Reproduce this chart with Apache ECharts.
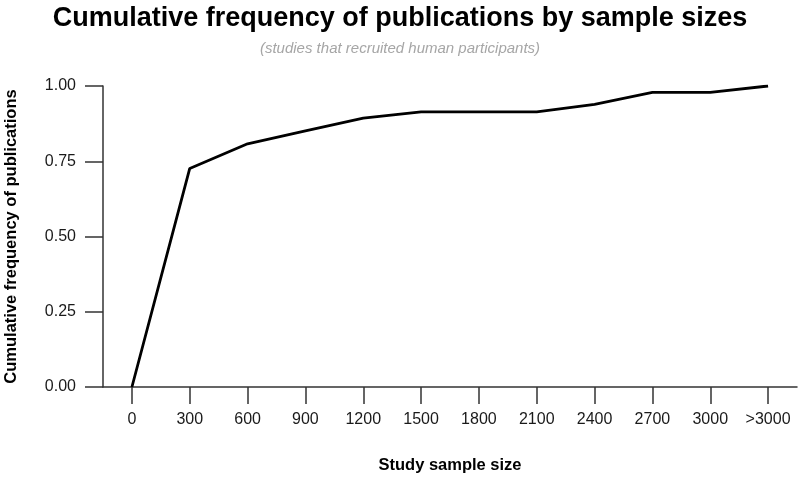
<!DOCTYPE html>
<html>
<head>
<meta charset="utf-8">
<script src="https://cdn.jsdelivr.net/npm/echarts@6/dist/echarts.min.js"></script>
<style>html,body{margin:0;padding:0;background:#fff}#c{width:800px;height:477px}</style>
</head>
<body>
<div id="c"></div>
<script>
const categories = ['0','300','600','900','1200','1500','1800','2100','2400','2700','3000','>3000'];
const cumFreq = [0, 0.726, 0.808, 0.851, 0.893, 0.914, 0.914, 0.914, 0.939, 0.979, 0.979, 1.0];
const yTicks = [0, 0.25, 0.5, 0.75, 1.0];

const chart = echarts.init(document.getElementById('c'), null, {renderer: 'canvas'});
const font = '"Liberation Sans", Arial, Helvetica, sans-serif';
chart.setOption({
  animation: false,
  title: [{
    text: 'Cumulative frequency of publications by sample sizes',
    left: 'center', top: 0,
    textStyle: {fontFamily: font, fontWeight: 'bold', fontSize: 27, color: '#000'}
  }, {
    text: '(studies that recruited human participants)',
    left: 'center', top: 36,
    textStyle: {fontFamily: font, fontStyle: 'italic', fontWeight: 'normal', fontSize: 15, color: '#a6a6a6'}
  }],
  grid: {left: 103, right: 3, top: 86, bottom: 90, containLabel: false, outerBoundsMode: 'none'},
  xAxis: {
    type: 'category',
    data: categories,
    boundaryGap: true,
    name: 'Study sample size',
    nameLocation: 'middle',
    nameGap: 70,
    nameTextStyle: {fontFamily: font, fontWeight: 'bold', fontSize: 16.5, color: '#000'},
    axisLine: {show: true, lineStyle: {color: '#333', width: 1.5}},
    axisTick: {show: true, alignWithLabel: true, length: 17, lineStyle: {color: '#333', width: 1.5}},
    axisLabel: {fontFamily: font, fontSize: 16, color: '#1a1a1a', margin: 25, interval: 0},
    splitLine: {show: false}
  },
  yAxis: {
    type: 'value',
    min: yTicks[0], max: yTicks[yTicks.length - 1], interval: 0.25,
    name: 'Cumulative frequency of publications',
    nameLocation: 'middle',
    nameGap: 83,
    nameRotate: 90,
    nameTextStyle: {fontFamily: font, fontWeight: 'bold', fontSize: 16.5, color: '#000'},
    axisLine: {show: true, lineStyle: {color: '#333', width: 1.5}},
    axisTick: {show: true, length: 18, lineStyle: {color: '#333', width: 1.5}},
    axisLabel: {fontFamily: font, fontSize: 16, color: '#1a1a1a', margin: 27,
      formatter: v => v.toFixed(2)},
    splitLine: {show: false}
  },
  series: [{
    type: 'line',
    data: cumFreq,
    showSymbol: false,
    symbol: 'none',
    lineStyle: {color: '#000', width: 2.8},
    z: 5
  }]
});
</script>
</body>
</html>
